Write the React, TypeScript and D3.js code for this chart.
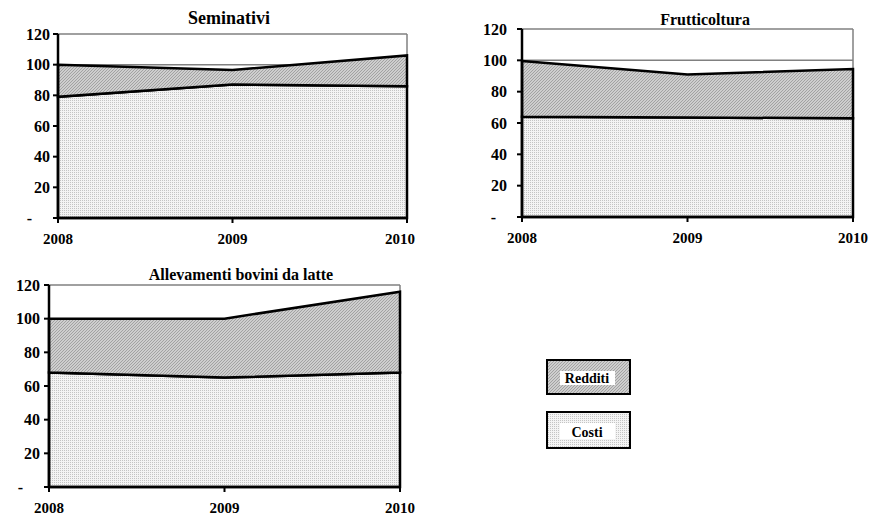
import React from "react";
import * as d3 from "d3";

const years = ["2008", "2009", "2010"];
const yTickValues = [0, 20, 40, 60, 80, 100, 120];
const seriesKeys = ["Costi", "Redditi"];

const seminativiCosti = [79, 87, 86];
const seminativiRedditi = [21, 9.5, 20];
const frutticolturaCosti = [64, 63.5, 63];
const frutticolturaRedditi = [35.5, 27.5, 31.5];
const latteCosti = [68, 65, 68];
const latteRedditi = [32, 35, 48];

const chartTitles = ["Seminativi", "Frutticoltura", "Allevamenti bovini da latte"];
const legendLabels = ["Redditi", "Costi"];

const FONT = '"Liberation Serif", "DejaVu Serif", Times, serif';
const txt = { fontFamily: FONT, fontWeight: 700 as const };

const panels = [
  { title: chartTitles[0], costi: seminativiCosti, redditi: seminativiRedditi, titleSize: 18,
    left: 58, right: 407, top: 34, bottom: 218, titleX: 229, titleY: 24, labelGap: 8, dashOffset: 18, clampRight: 415 },
  { title: chartTitles[1], costi: frutticolturaCosti, redditi: frutticolturaRedditi, titleSize: 16,
    left: 522, right: 853, top: 29, bottom: 217, titleX: 705, titleY: 25, labelGap: 15, dashOffset: 11, clampRight: 869 },
  { title: chartTitles[2], costi: latteCosti, redditi: latteRedditi, titleSize: 16,
    left: 49, right: 400, top: 285, bottom: 487, titleX: 241, titleY: 280, labelGap: 9, dashOffset: 17, clampRight: 418 },
];

function Panel({ p }: { p: any }) {
  const x = d3.scalePoint<string>().domain(years).range([p.left, p.right]).padding(0);
  const y = d3.scaleLinear().domain([0, 120]).range([p.bottom, p.top]);
  const table = years.map((yr, i) => ({ year: yr, Costi: p.costi[i], Redditi: p.redditi[i] }));
  const stacked = d3.stack<any>().keys(seriesKeys)(table);
  const area = d3
    .area<any>()
    .x((d) => x(d.data.year) as number)
    .y0((d) => y(d[0]))
    .y1((d) => y(d[1]));
  const fills: Record<string, string> = { Costi: "url(#pat-costi)", Redditi: "url(#pat-redditi)" };
  const labelX = p.left - p.labelGap;
  return (
    <g>
      <text x={p.titleX} y={p.titleY} textAnchor="middle" style={{ ...txt, fontSize: p.titleSize }}>
        {p.title}
      </text>
      {yTickValues.filter((v) => v > 0).map((v) => (
        <line key={"g" + v} x1={p.left} x2={p.right} y1={y(v)} y2={y(v)} stroke="#808080" strokeWidth={1.5} />
      ))}
      <line x1={p.right} x2={p.right} y1={y(120)} y2={y(0)} stroke="#808080" strokeWidth={1.5} />
      {stacked.map((s) => (
        <path key={s.key} d={area(s as any) || ""} fill={fills[s.key]} stroke="#000" strokeWidth={2.5} strokeLinejoin="miter" />
      ))}
      <line x1={p.left} x2={p.left} y1={y(0) + 1} y2={y(120)} stroke="#000" strokeWidth={2.5} />
      <line x1={p.left - 1} x2={p.right + 1} y1={y(0)} y2={y(0)} stroke="#000" strokeWidth={2.5} />
      {yTickValues.map((v) => (
        <g key={"t" + v}>
          <line x1={p.left - 5} x2={p.left} y1={y(v)} y2={y(v)} stroke="#000" strokeWidth={2} />
          <text
            x={v === 0 ? labelX - p.dashOffset : labelX}
            y={y(v)}
            dy="0.35em"
            textAnchor="end"
            style={{ ...txt, fontSize: 16 }}
          >
            {v === 0 ? "-" : String(v)}
          </text>
        </g>
      ))}
      {years.map((yr) => {
        const cx = x(yr) as number;
        const lx = Math.min(cx, p.clampRight - 15);
        return (
          <g key={yr}>
            <line x1={cx} x2={cx} y1={y(0)} y2={y(0) + 5} stroke="#000" strokeWidth={2} />
            <text x={lx} y={y(0) + 26} textAnchor="middle" style={{ ...txt, fontSize: 15 }}>
              {yr}
            </text>
          </g>
        );
      })}
    </g>
  );
}

function Legend() {
  const boxes = [
    { label: legendLabels[0], fill: "url(#pat-redditi)", y: 360, h: 34 },
    { label: legendLabels[1], fill: "url(#pat-costi)", y: 412, h: 36 },
  ];
  return (
    <g>
      {boxes.map((b) => (
        <g key={b.label}>
          <rect x={547} y={b.y} width={83} height={b.h} fill={b.fill} stroke="#000" strokeWidth={2} />
          <rect x={560} y={b.y + 11} width={55} height={b.h - 20} fill="#fff" />
          <text x={587} y={b.y + b.h - 11} textAnchor="middle" style={{ ...txt, fontSize: 14 }}>
            {b.label}
          </text>
        </g>
      ))}
    </g>
  );
}

export default function App() {
  return (
    <svg width={869} height={515} style={{ position: "absolute", left: 0, top: 0, background: "#fff" }}>
      <defs>
        <pattern id="pat-redditi" patternUnits="userSpaceOnUse" width={3} height={3}>
          <rect width={3} height={3} fill="#cecece" />
          <path d="M0,3 L3,0 M-1,1 L1,-1 M2,4 L4,2" stroke="#a2a2a2" strokeWidth={1} />
        </pattern>
        <pattern id="pat-costi" patternUnits="userSpaceOnUse" width={2} height={2}>
          <rect width={2} height={2} fill="#f4f4f4" />
          <rect width={1} height={1} fill="#c4c4c4" />
        </pattern>
      </defs>
      <rect width={869} height={515} fill="#fff" />
      {panels.map((p) => (
        <Panel key={p.title} p={p} />
      ))}
      <Legend />
    </svg>
  );
}
